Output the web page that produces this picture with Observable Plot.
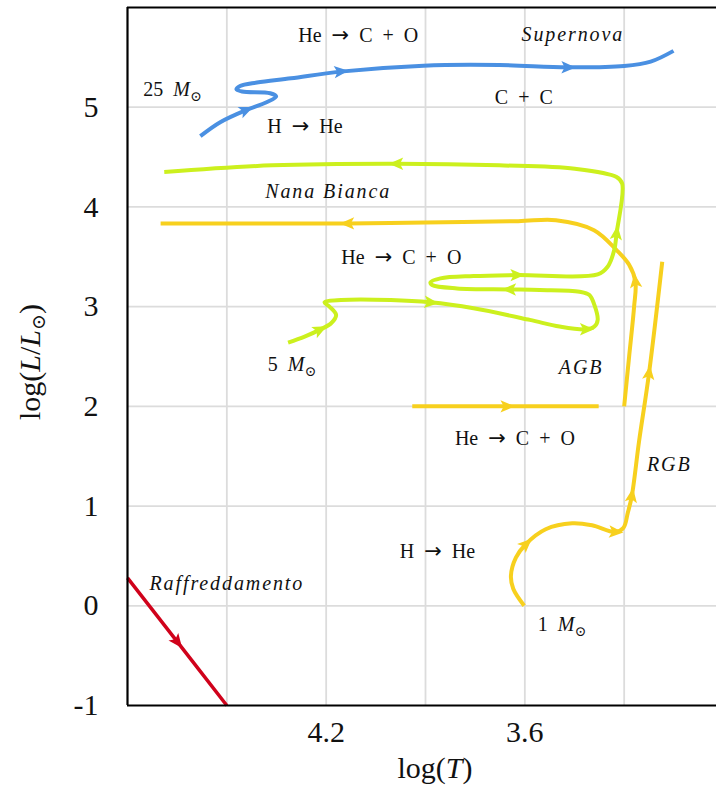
<!DOCTYPE html>
<html><head><meta charset="utf-8">
<script src="https://cdn.jsdelivr.net/npm/d3@7"></script>
<script src="https://cdn.jsdelivr.net/npm/@observablehq/plot@0.6"></script>
<style>body{margin:0;background:#fff;} svg{display:block;}</style>
</head><body><div id="chart"></div>
<script>
// ---- data: [log T, log L/Lsun] ----
const track25 = [[4.58,4.71],[4.52,4.85],[4.443,4.97],[4.38,5.05],[4.351,5.107],[4.369,5.14],[4.454,5.157],[4.471,5.18],[4.46,5.213],[4.409,5.247],[4.306,5.29],[4.157,5.357],[3.906,5.417],[3.677,5.423],[3.471,5.40],[3.30,5.413],[3.22,5.457],[3.151,5.565]];
const arrows25 = [2, 11, 14];

const track5 = [[4.315,2.64],[4.265,2.70],[4.22,2.767],[4.185,2.833],[4.17,2.917],[4.19,3.0],[4.205,3.043],[4.155,3.067],[4.005,3.067],[3.885,3.043],[3.755,2.983],[3.585,2.867],[3.495,2.80],[3.415,2.773],[3.39,2.80],[3.38,2.867],[3.39,3.017],[3.405,3.117],[3.435,3.15],[3.555,3.167],[3.645,3.173],[3.805,3.183],[3.88,3.217],[3.885,3.243],[3.855,3.283],[3.755,3.307],[3.625,3.317],[3.38,3.323],[3.35,3.40],[3.33,3.567],[3.323,3.733],[3.306,4.233],[3.323,4.30],[3.449,4.383],[3.677,4.417],[3.986,4.433],[4.363,4.417],[4.689,4.35]];
const arrows5 = [2, 9, 13, 20, 26, 30, 35];

const track1MS = [[3.602,0.0],[3.635,0.17],[3.642,0.30],[3.627,0.483],[3.597,0.617],[3.537,0.767],[3.457,0.827],[3.397,0.807],[3.327,0.74],[3.302,0.783],[3.289,0.933],[3.277,1.10],[3.255,1.65],[3.225,2.33],[3.185,3.45]];
const arrows1MS = [4, 8, 11, 13];
const track1HB = [[3.94,2.0],[3.655,2.0],[3.377,2.0]];
const arrows1HB = [1];
const track1AGB = [[3.30,2.0],[3.285,2.5],[3.27,3.0],[3.266,3.25],[3.285,3.42],[3.323,3.567],[3.391,3.767],[3.506,3.867],[3.62,3.857],[3.90,3.845],[4.134,3.835],[4.45,3.833],[4.70,3.833]];
const arrows1AGB = [3, 10];

const trackCool = [[4.8,0.28],[4.65,-0.36],[4.5,-1.0]];
const arrowsCool = [1];

const xTicks = [4.2, 3.6];
const xGrid = [4.5, 4.2, 3.9, 3.6, 3.3];
const yTicks = [-1, 0, 1, 2, 3, 4, 5];
const yGrid = [0, 1, 2, 3, 4, 5];

// labels: [logT, logL, text]
const labelsUpright = [
  [4.103, 5.72, "He\u2002\u2192\u2002C\u2002+\u2002O"],
  [3.603, 5.10, "C\u2002+\u2002C"],
  [4.264, 4.81, "H\u2002\u2192\u2002He"],
  [3.973, 3.49, "He\u2002\u2192\u2002C\u2002+\u2002O"],
  [3.63, 1.68, "He\u2002\u2192\u2002C\u2002+\u2002O"],
  [3.864, 0.54, "H\u2002\u2192\u2002He"],
  [4.664, 5.18, "25 M\u2299"],
  [4.303, 2.42, "5 M\u2299"],
  [3.488, -0.19, "1 M\u2299"]
];
const labelsItalic = [
  [3.455, 5.73, "Supernova"],
  [4.194, 4.15, "Nana Bianca"],
  [3.43, 2.39, "AGB"],
  [3.164, 1.42, "RGB"],
  [4.50, 0.22, "Raffreddamento"]
];

// ---- style / layout ----
const BLUE = "#4A90E2", GREEN = "#CCF01E", YELLOW = "#F7D01E", RED = "#D0021B";
const FONT = "'Liberation Serif', 'DejaVu Serif', serif";
const X_DOMAIN = [4.8, 3.0], X_RANGE = [127, 723];
const Y_DOMAIN = [-1, 6], Y_RANGE = [705, 7];
const kx = (X_RANGE[1] - X_RANGE[0]) / (X_DOMAIN[1] - X_DOMAIN[0]);
const ky = (Y_RANGE[1] - Y_RANGE[0]) / (Y_DOMAIN[1] - Y_DOMAIN[0]);

function rows(track, z) { return track.map(([T, L]) => ({T, L, z})); }
function arrowRows(track, idx) {
  return idx.map(i => {
    const a = track[Math.max(0, i - 1)], b = track[Math.min(track.length - 1, i + 1)];
    const dx = (b[0] - a[0]) * kx, dy = (b[1] - a[1]) * ky;
    return {T: track[i][0], L: track[i][1], angle: Math.atan2(dx, -dy) * 180 / Math.PI};
  });
}
const stealth = {
  draw(ctx, size) {
    const r = Math.sqrt(size / Math.PI);
    ctx.moveTo(0, -1.25 * r);
    ctx.lineTo(0.95 * r, 0.95 * r);
    ctx.lineTo(0, 0.45 * r);
    ctx.lineTo(-0.95 * r, 0.95 * r);
    ctx.closePath();
  }
};
function arrowMark(track, idx, color) {
  return Plot.dot(arrowRows(track, idx), {x: "T", y: "L", rotate: "angle", symbol: stealth, r: 6.5, fill: color, stroke: "none"});
}
function lineMark(data, color, w) {
  return Plot.line(data, {x: "T", y: "L", z: "z", stroke: color, strokeWidth: w, curve: "catmull-rom", strokeLinecap: "butt"});
}

const yellowRows = [...rows(track1MS, "a"), ...rows(track1HB, "b"), ...rows(track1AGB, "c")];

const plot = Plot.plot({
  width: 716, height: 790,
  marginLeft: 127, marginRight: 0, marginTop: 7, marginBottom: 85,
  style: {fontFamily: FONT, fontSize: "30px", color: "#111", background: "#fff"},
  x: {domain: X_DOMAIN, range: X_RANGE, ticks: xTicks, tickSize: 0, tickPadding: 15, tickFormat: d => String(d), label: null},
  y: {domain: Y_DOMAIN, range: Y_RANGE, ticks: yTicks, tickSize: 0, tickPadding: 29, tickFormat: d => d < 0 ? "-" + Math.abs(d) : String(d), label: null},
  marks: [
    Plot.ruleX(xGrid, {stroke: "#dcdcdc", strokeWidth: 1.8}),
    Plot.ruleY(yGrid, {stroke: "#dcdcdc", strokeWidth: 1.8}),
    lineMark(rows(trackCool, "r"), RED, 3.5),
    arrowMark(trackCool, arrowsCool, RED),
    lineMark(rows(track25, "b"), BLUE, 4),
    arrowMark(track25, arrows25, BLUE),
    lineMark(yellowRows, YELLOW, 4),
    arrowMark(track1MS, arrows1MS, YELLOW),
    arrowMark(track1HB, arrows1HB, YELLOW),
    arrowMark(track1AGB, arrows1AGB, YELLOW),
    lineMark(rows(track5, "g"), GREEN, 4),
    arrowMark(track5, arrows5, GREEN),
    Plot.text(labelsUpright, {x: d => d[0], y: d => d[1], text: d => d[2], fontSize: 20, fontFamily: FONT, fill: "#111"}),
    Plot.text(labelsItalic, {x: d => d[0], y: d => d[1], text: d => d[2], fontSize: 20, fontFamily: FONT, fontStyle: "italic", fill: "#111"}),
    Plot.ruleX([X_DOMAIN[0]], {stroke: "#000", strokeWidth: 2.2}),
    Plot.ruleY([Y_DOMAIN[0], Y_DOMAIN[1]], {stroke: "#000", strokeWidth: 2.2})
  ]
});

const svg = plot;
// wider letter spacing for the italic (math-style) labels
svg.querySelectorAll('g[font-style="italic"] text, text[font-style="italic"]').forEach(t => {
  t.setAttribute("letter-spacing", "1.9");
});
// rich text: italic M with subscript sun, wider arrows
svg.querySelectorAll("text").forEach(t => {
  const txt = t.textContent;
  const m = txt.match(/^(\d+) M\u2299$/);
  if (m) {
    const sel = d3.select(t);
    sel.text("");
    sel.append("tspan").text(m[1] + "\u2002");
    sel.append("tspan").attr("font-style", "italic").text("M");
    sel.append("tspan").attr("font-size", "14px").attr("dy", "5").text("\u2299");
  } else if (txt.includes("\u2192") && t.children.length === 0) {
    const parts = txt.split("\u2192");
    const sel = d3.select(t);
    sel.text("");
    sel.append("tspan").text(parts[0]);
    sel.append("tspan").attr("font-family", "'DejaVu Sans'").attr("font-size", "21px").text("\u2192");
    sel.append("tspan").text(parts[1]);
  }
});
// axis titles
const s = d3.select(svg);
const yl = s.append("text").attr("transform", "translate(40,362) rotate(-90)").attr("text-anchor", "middle")
  .attr("font-size", "30px").attr("font-family", FONT).attr("fill", "#111");
yl.append("tspan").text("log(");
yl.append("tspan").attr("font-style", "italic").text("L");
yl.append("tspan").text("/");
yl.append("tspan").attr("font-style", "italic").text("L");
yl.append("tspan").attr("font-size", "19px").attr("dy", "5").text("\u2299");
yl.append("tspan").attr("dy", "-5").text(")");
const xl = s.append("text").attr("x", 435).attr("y", 778).attr("text-anchor", "middle")
  .attr("font-size", "30px").attr("font-family", FONT).attr("fill", "#111");
xl.append("tspan").text("log(");
xl.append("tspan").attr("font-style", "italic").text("T");
xl.append("tspan").text(")");

document.getElementById("chart").appendChild(svg);
</script>
</body></html>
